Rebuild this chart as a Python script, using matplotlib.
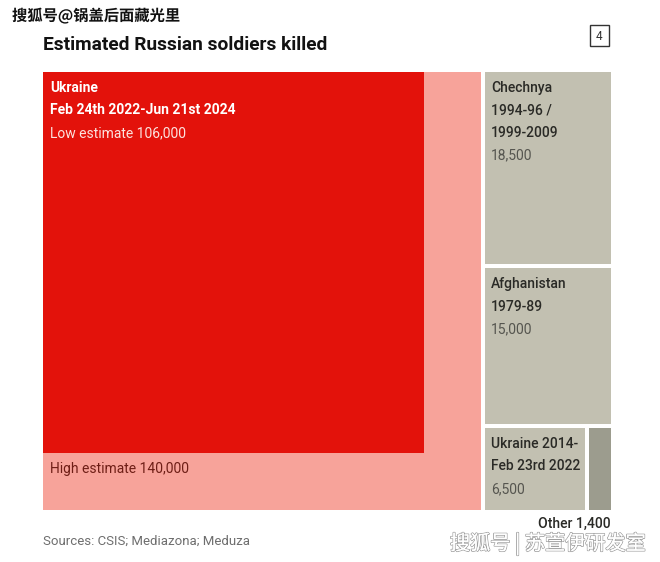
import numpy as np
import matplotlib
matplotlib.use("Agg")
import matplotlib.pyplot as plt
from matplotlib.patches import Rectangle
import matplotlib.patheffects as pe

# ---- data ----
title = "Estimated Russian soldiers killed"
ukraine_name = "Ukraine"
ukraine_period = "Feb 24th 2022-Jun 21st 2024"
low_estimate = 106000
high_estimate = 140000
side_names = ["Chechnya\n1994-96 /\n1999-2009", "Afghanistan\n1979-89"]
side_values = [18500, 15000]
bottom_names = ["Ukraine 2014-\nFeb 23rd 2022", "Other"]
bottom_values = [6500, 1400]
source = "Sources: CSIS; Mediazona; Meduza"
chart_number = "4"
watermark_top = "搜狐号@锅盖后面藏光里"
watermark_bottom = "搜狐号 | 苏萱伊研发室"

# ---- style ----
RED = "#E3120B"
PINK = "#F7A39A"
GRAY = "#C2C0B1"
DARKGRAY = "#9C9C8E"
FONT = ["Roboto", "DejaVu Sans"]
CJK = ["Noto Sans CJK SC", "DejaVu Sans"]

fig = plt.figure(figsize=(6.6, 5.62), dpi=100)
ax = fig.add_axes([0, 0, 1, 1])
ax.set_xlim(0, 660)
ax.set_ylim(562, 0)
ax.axis("off")

X0, Y0 = 43, 72
SIDE = 438
GAP = 4
RIGHT = 611

# main squares (area proportional to value)
hi_side = SIDE
lo_side = SIDE * np.sqrt(low_estimate / high_estimate)
ax.add_patch(Rectangle((X0, Y0), hi_side, hi_side, facecolor=PINK, edgecolor="none"))
ax.add_patch(Rectangle((X0, Y0), lo_side, lo_side, facecolor=RED, edgecolor="none"))

# right column
cx = X0 + hi_side + GAP
cw = RIGHT - cx
total = sum(side_values) + sum(bottom_values)
avail_h = hi_side - GAP * len(side_values)
y = Y0
rects = []
for name, v in zip(side_names, side_values):
    h = avail_h * v / total
    ax.add_patch(Rectangle((cx, y), cw, h, facecolor=GRAY, edgecolor="none"))
    rects.append((cx, y, name, v))
    y += h + GAP
bh = Y0 + hi_side - y
avail_w = cw - GAP
bx = cx
bsum = sum(bottom_values)
for i, (name, v) in enumerate(zip(bottom_names, bottom_values)):
    w = avail_w * v / bsum
    ax.add_patch(Rectangle((bx, y), w, bh, facecolor=GRAY if i == 0 else DARKGRAY, edgecolor="none"))
    if i == 0:
        rects.append((bx, y, name, v))
    bx += w + GAP

# labels
LS = 22.5
ax.text(X0 + 7, Y0 + 16, ukraine_name, color="white", fontsize=10, fontweight="bold", family=FONT, va="center")
ax.text(X0 + 7, Y0 + 16 + LS, ukraine_period, color="white", fontsize=10, fontweight="bold", family=FONT, va="center")
ax.text(X0 + 7, Y0 + 16 + 2 * LS, f"Low estimate {low_estimate:,}", color="#FCE3DF", fontsize=10, family=FONT, va="center")
ax.text(X0 + 7, Y0 + lo_side + 16, f"High estimate {high_estimate:,}", color="#6E1E16", fontsize=10, family=FONT, va="center")

for (rx, ry, name, v) in rects:
    lines = name.split("\n")
    for j, ln in enumerate(lines):
        ax.text(rx + 6, ry + 16 + j * LS, ln, color="#2A2A26", fontsize=10, fontweight="medium", family=FONT, va="center")
    ax.text(rx + 6, ry + 16 + len(lines) * LS, f"{v:,}", color="#55554F", fontsize=10, family=FONT, va="center")

ax.text(RIGHT, 524, f"{bottom_names[1]} {bottom_values[1]:,}", color="#2A2A26", fontsize=10,
        fontweight="medium", family=FONT, ha="right", va="center")

# title, number box, source
ax.text(X0, 45, title, color="#121212", fontsize=13.8, fontweight="bold", family=FONT, va="center")
ax.add_patch(Rectangle((590, 25), 19, 21, facecolor="white", edgecolor="#333333", linewidth=1))
ax.text(599.5, 36, chart_number, color="#333333", fontsize=8.5, family=FONT, ha="center", va="center")
ax.text(X0, 541, source, color="#6E6E6E", fontsize=9.5, family=FONT, va="center")

# watermarks
ax.text(12, 16, watermark_top, color="#111111", fontsize=11, fontweight="bold", family=CJK, va="center",
        path_effects=[pe.withStroke(linewidth=2.5, foreground="white")])
ax.text(450, 544, watermark_bottom, color="white", fontsize=14.5, family=CJK, va="center",
        path_effects=[pe.withStroke(linewidth=1.2, foreground="#A0A0A0"), pe.Normal()])

fig.savefig("out.png", dpi=100, facecolor="white")
